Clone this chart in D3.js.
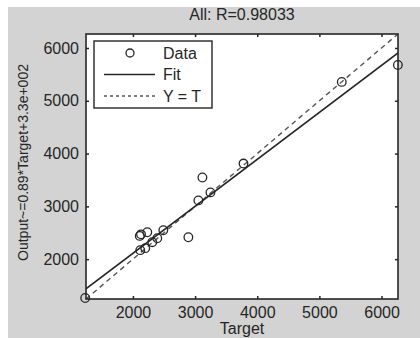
<!DOCTYPE html>
<html>
<head>
<meta charset="utf-8">
<script src="https://cdn.jsdelivr.net/npm/d3@7"></script>
<style>
  body { margin: 0; background: #fff; }
  svg { display: block; font-family: "Liberation Sans", Arial, sans-serif; }
</style>
</head>
<body>
<svg id="chart"></svg>
<script>
// regression data (target vs. network output)
const targets = [1232, 2110, 2130, 2231, 2489, 2392, 2311, 2118, 2198, 2892, 3118, 3053, 3247, 3779, 5360, 6263];
const outputs = [1264, 2440, 2470, 2509, 2547, 2396, 2321, 2170, 2208, 2415, 3547, 3113, 3264, 3811, 5358, 5679];
const xTicks = [2000, 3000, 4000, 5000, 6000];
const yTicks = [2000, 3000, 4000, 5000, 6000];
const axisLimits = [1245, 6265];
const fitSlope = 0.89;
const fitIntercept = 330;
const legendLabels = ["Data", "Fit", "Y = T"];
const titleText = "All: R=0.98033";
const yLabel = "Output~=0.89*Target+3.3e+002";
const xLabel = "Target";

const width = 420, height = 338;
const margin = { top: 34, right: 22, bottom: 39, left: 86 };
const ink = "#262626";
const textInk = "#262626";

const svg = d3.select("#chart").attr("width", width).attr("height", height);

svg.append("rect").attr("width", width).attr("height", height).attr("fill", "#fff");
svg.append("rect").attr("x", 8).attr("y", 7)
    .attr("width", width - 8).attr("height", height - 7)
    .attr("fill", "#d3d3d3");

const x = d3.scaleLinear().domain(axisLimits).range([margin.left, width - margin.right]);
const y = d3.scaleLinear().domain(axisLimits).range([height - margin.bottom, margin.top]);

const pw = width - margin.left - margin.right;
const ph = height - margin.top - margin.bottom;

svg.append("rect")
    .attr("x", margin.left).attr("y", margin.top)
    .attr("width", pw).attr("height", ph)
    .attr("fill", "#fff");

svg.append("clipPath").attr("id", "plot-clip")
    .append("rect")
    .attr("x", margin.left).attr("y", margin.top)
    .attr("width", pw).attr("height", ph);

const lines = svg.append("g").attr("clip-path", "url(#plot-clip)");

// Y = T
lines.append("line")
    .attr("x1", x(axisLimits[0])).attr("y1", y(axisLimits[0]))
    .attr("x2", x(axisLimits[1])).attr("y2", y(axisLimits[1]))
    .attr("stroke", "#555").attr("stroke-width", 1.4)
    .attr("stroke-dasharray", "5,4");

// fit
lines.append("line")
    .attr("x1", x(axisLimits[0])).attr("y1", y(fitSlope * axisLimits[0] + fitIntercept))
    .attr("x2", x(axisLimits[1])).attr("y2", y(fitSlope * axisLimits[1] + fitIntercept))
    .attr("stroke", ink).attr("stroke-width", 1.5);

// data circles
svg.append("g")
    .selectAll("circle")
    .data(targets.map((t, i) => ({ t, o: outputs[i] })))
    .join("circle")
    .attr("cx", d => x(d.t))
    .attr("cy", d => y(d.o))
    .attr("r", 4.3)
    .attr("fill", "none")
    .attr("stroke", ink)
    .attr("stroke-width", 1.3);

// axes, ticks inward on all four sides
const fmt = d3.format("d");
const xAxisB = svg.append("g")
    .attr("transform", `translate(0,${height - margin.bottom})`)
    .call(d3.axisBottom(x).tickValues(xTicks).tickFormat(fmt).tickSizeInner(-3).tickSizeOuter(0).tickPadding(8));
const xAxisT = svg.append("g")
    .attr("transform", `translate(0,${margin.top})`)
    .call(d3.axisTop(x).tickValues(xTicks).tickSizeInner(-3).tickSizeOuter(0).tickFormat(""));
const yAxisL = svg.append("g")
    .attr("transform", `translate(${margin.left},0)`)
    .call(d3.axisLeft(y).tickValues(yTicks).tickFormat(fmt).tickSizeInner(-3).tickSizeOuter(0).tickPadding(7));
const yAxisR = svg.append("g")
    .attr("transform", `translate(${width - margin.right},0)`)
    .call(d3.axisRight(y).tickValues(yTicks).tickSizeInner(-3).tickSizeOuter(0).tickFormat(""));

[xAxisB, xAxisT, yAxisL, yAxisR].forEach(g => {
    g.select(".domain").remove();
    g.selectAll(".tick line").attr("stroke", ink).attr("stroke-width", 1.5);
    g.selectAll("text")
        .attr("font-size", "16px")
        .attr("fill", textInk)
        .attr("font-family", "'Liberation Sans', Arial, sans-serif");
});

svg.append("rect")
    .attr("x", margin.left).attr("y", margin.top)
    .attr("width", pw).attr("height", ph)
    .attr("fill", "none")
    .attr("stroke", ink).attr("stroke-width", 1.6);

// title and labels
svg.append("text")
    .attr("x", margin.left + pw / 2).attr("y", 20)
    .attr("text-anchor", "middle")
    .attr("font-size", "16px").attr("fill", textInk)
    .text(titleText);

svg.append("text")
    .attr("x", margin.left + pw / 2).attr("y", 334)
    .attr("text-anchor", "middle")
    .attr("font-size", "16px").attr("fill", textInk)
    .text(xLabel);

svg.append("text")
    .attr("transform", `translate(28,${margin.top + ph / 2 - 4}) rotate(-90)`)
    .attr("text-anchor", "middle")
    .attr("font-size", "14px").attr("fill", textInk)
    .text(yLabel);

// legend
const legend = svg.append("g").attr("transform", "translate(94,41)");
legend.append("rect")
    .attr("width", 118).attr("height", 67)
    .attr("fill", "#fff")
    .attr("stroke", ink).attr("stroke-width", 1.4);

const rows = legendLabels.map((label, i) => ({ label, i }));
const row = legend.selectAll("g.row")
    .data(rows)
    .join("g")
    .attr("class", "row")
    .attr("transform", d => `translate(0,${12 + d.i * 21.5})`);

row.append("text")
    .attr("x", 69).attr("y", 0)
    .attr("dy", "0.35em")
    .attr("font-size", "16px").attr("fill", textInk)
    .text(d => d.label);

row.filter(d => d.i === 0).append("circle")
    .attr("cx", 36).attr("cy", 0).attr("r", 4)
    .attr("fill", "none").attr("stroke", ink).attr("stroke-width", 1.3);

row.filter(d => d.i === 1).append("line")
    .attr("x1", 10).attr("x2", 61)
    .attr("stroke", ink).attr("stroke-width", 1.5);

row.filter(d => d.i === 2).append("line")
    .attr("x1", 10).attr("x2", 61)
    .attr("stroke", "#555").attr("stroke-width", 1.4)
    .attr("stroke-dasharray", "3,3");
</script>
</body>
</html>
